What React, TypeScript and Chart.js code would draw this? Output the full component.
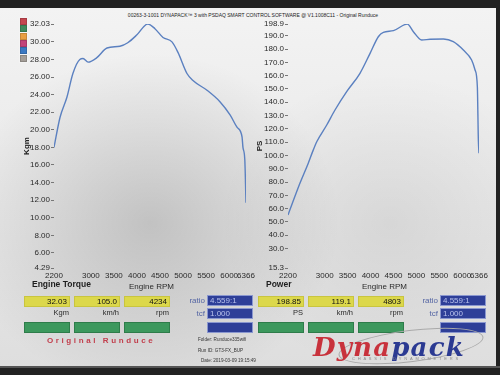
import React, { useEffect, useRef } from "react";
import { Chart, registerables } from "chart.js";

Chart.register(...registerables);
Chart.defaults.font.family = "'Liberation Sans', Arial, sans-serif";

// ---------- data ----------
const rpmTicks = [2200, 3000, 3500, 4000, 4500, 5000, 5500, 6000, 6366];
const torqueTicks = [4.29, 6, 8, 10, 12, 14, 16, 18, 20, 22, 24, 26, 28, 30, 32.03];
const powerTicks = [15.3, 30, 40, 50, 60, 70, 80, 90, 100, 110, 120, 130, 140, 150, 160, 170, 180, 190, 198.9];

const torqueRpm = [2200, 2330, 2480, 2610, 2760, 2830, 2940, 3130, 3350, 3630, 3800, 4000, 4234, 4390, 4565, 4760, 4890, 5085, 5215, 5520, 5800, 6020, 6170, 6280, 6300, 6340, 6366];
const torqueKgm = [18.0, 21.4, 23.7, 26.4, 28.0, 28.1, 27.7, 28.2, 29.3, 29.5, 29.9, 30.8, 32.03, 31.5, 30.5, 30.0, 28.8, 26.4, 25.6, 24.5, 23.2, 21.7, 20.3, 19.2, 18.0, 16.6, 11.7];

const powerRpm = [2200, 2460, 2640, 2750, 2830, 3045, 3225, 3480, 3770, 3990, 4170, 4280, 4500, 4803, 4935, 5115, 5300, 5590, 5805, 6025, 6205, 6280, 6330, 6352, 6366];
const powerPs = [55.2, 79.0, 94.0, 104.0, 110.5, 122.9, 134.2, 148.0, 161.8, 176.8, 189.3, 192.6, 193.9, 198.85, 193.1, 186.9, 187.4, 187.6, 185.6, 179.3, 171.8, 164.3, 151.7, 111.6, 101.6];

const legendColors = ["#c4464f", "#3f8a5c", "#e9a043", "#c2437a", "#3a78c2", "#a39d97"];

const titleText = "00263-3-1001 DYNAPACK\u2122 3 with PSDAQ SMART CONTROL SOFTWARE @ V1.1008C11 - Original Runduce";

const torquePanel = { heading: "Engine Torque", values: ["32.03", "105.0", "4234"], units: ["Kgm", "km/h", "rpm"] };
const powerPanel = { heading: "Power", values: ["198.85", "119.1", "4803"], units: ["PS", "km/h", "rpm"] };
const ratioText = "4.559:1";
const tcfText = "1.000";
const runInfo = ["Folder: Runduce335wifi", "Run ID: GT3-FX_BUP", "Date: 2019-03-09 19:15:49"];

// ---------- chart ----------
type CurveProps = {
  xs: number[];
  ys: number[];
  yTicks: number[];
  decimals: number;
  yTitle: string;
  left: number;
  width: number;
  axisWidth: number;
  padRight: number;
  titlePad: number;
};

const CANVAS_H = 292;
const PLOT_TOP = 24;
const PLOT_BOTTOM = 268;

function Curve(p: CurveProps) {
  const ref = useRef<HTMLCanvasElement>(null);
  useEffect(() => {
    const chart = new Chart(ref.current as HTMLCanvasElement, {
      type: "line",
      data: {
        datasets: [
          {
            data: p.xs.map((x, i) => ({ x, y: p.ys[i] })),
            borderColor: "#5b80c0",
            borderWidth: 1.4,
            pointRadius: 0,
            cubicInterpolationMode: "monotone",
            fill: false,
          },
        ],
      },
      options: {
        responsive: false,
        animation: false,
        layout: { padding: { left: 0, right: p.padRight, top: PLOT_TOP, bottom: 0 } },
        plugins: { legend: { display: false }, tooltip: { enabled: false } },
        scales: {
          x: {
            type: "linear",
            min: rpmTicks[0],
            max: rpmTicks[rpmTicks.length - 1],
            afterBuildTicks: (s: any) => {
              s.ticks = rpmTicks.map((v) => ({ value: v }));
            },
            afterFit: (s: any) => {
              s.height = CANVAS_H - PLOT_BOTTOM;
              s.paddingLeft = 0;
              s.paddingRight = 0;
            },
            ticks: {
              autoSkip: false,
              maxRotation: 0,
              padding: 3,
              color: "#2a2a2a",
              font: { size: 8 },
              callback: (v: any) => String(v),
            },
            grid: { display: false, drawTicks: false },
            border: { display: false },
          },
          y: {
            min: p.yTicks[0],
            max: p.yTicks[p.yTicks.length - 1],
            afterBuildTicks: (s: any) => {
              s.ticks = p.yTicks.map((v) => ({ value: v }));
            },
            afterFit: (s: any) => {
              s.width = p.axisWidth;
              s.paddingTop = 0;
              s.paddingBottom = 0;
            },
            ticks: {
              padding: 1,
              color: "#2a2a2a",
              font: { size: 8 },
              callback: (v: any) => Number(v).toFixed(p.decimals),
            },
            grid: { drawOnChartArea: false, drawTicks: true, tickLength: 3, color: "#777" },
            border: { display: false },
            title: {
              display: true,
              text: p.yTitle,
              color: "#222",
              font: { size: 8, weight: "bold" },
              padding: { top: p.titlePad, bottom: 0 },
            },
          },
        },
      },
    } as any);
    return () => chart.destroy();
  }, []);
  return (
    <canvas
      ref={ref}
      width={p.width}
      height={CANVAS_H}
      style={{ position: "absolute", left: p.left, top: 0, width: p.width, height: CANVAS_H }}
    />
  );
}

// ---------- panel ----------
const abs = (l: number, t: number, w: number, h: number): React.CSSProperties => ({
  position: "absolute",
  left: l,
  top: t,
  width: w,
  height: h,
  boxSizing: "border-box",
});

const yellow: React.CSSProperties = {
  background: "#dcd84b",
  border: "1px solid #c9c53e",
  color: "#111",
  fontSize: 8,
  textAlign: "right",
  paddingRight: 2,
  lineHeight: "9px",
};
const green: React.CSSProperties = { background: "#3c985d", border: "1px solid #2e7c4a" };
const blue: React.CSSProperties = {
  background: "#2e3f98",
  border: "1px solid #8a97cf",
  color: "#b7c1ec",
  fontSize: 8,
  paddingLeft: 2,
  lineHeight: "9px",
};

function Panel(props: {
  x0: number;
  heading: string;
  values: string[];
  units: string[];
  rpmX: number;
  boxX: number[];
  ratioX: number;
  blueX: number;
}) {
  const { heading, values, units, rpmX, boxX, ratioX, blueX } = props;
  return (
    <>
      <div style={{ ...abs(props.x0, 279, 100, 12), fontSize: 8.5, fontWeight: "bold", color: "#1e1e1e" }}>{heading}</div>
      <div style={{ ...abs(rpmX, 282, 80, 12), fontSize: 8, color: "#2a2a2a" }}>Engine RPM</div>
      {values.map((v, i) => (
        <div key={"v" + i} style={{ ...abs(boxX[i], 296, 46, 11), ...yellow }}>{v}</div>
      ))}
      {units.map((u, i) => (
        <div key={"u" + i} style={{ ...abs(boxX[i], 308, 46, 10), fontSize: 7.5, color: "#2a2a2a", textAlign: "right", paddingRight: 1 }}>
          {u}
        </div>
      ))}
      {boxX.map((x, i) => (
        <div key={"g" + i} style={{ ...abs(x, 322, 46, 11), ...green }} />
      ))}
      <div style={{ ...abs(ratioX, 296, 30, 10), fontSize: 8, color: "#5566a4", textAlign: "right" }}>ratio</div>
      <div style={{ ...abs(ratioX, 309, 30, 10), fontSize: 8, color: "#5566a4", textAlign: "right" }}>tcf</div>
      <div style={{ ...abs(blueX, 295, 46, 11), ...blue }}>{ratioText}</div>
      <div style={{ ...abs(blueX, 308, 46, 11), ...blue }}>{tcfText}</div>
      <div style={{ ...abs(blueX, 322, 46, 11), ...blue }} />
    </>
  );
}

export default function App() {
  return (
    <div
      style={{
        position: "absolute",
        left: 0,
        top: 0,
        width: 500,
        height: 375,
        overflow: "hidden",
        background: "#222",
        fontFamily: "'Liberation Sans', Arial, sans-serif",
      }}
    >
      {/* paper */}
      <div
        style={{
          ...abs(0, 8, 496, 360),
          background:
            "radial-gradient(ellipse 190px 170px at 150px 215px, rgba(0,0,0,0.16), rgba(0,0,0,0) 100%)," +
            "radial-gradient(ellipse 170px 150px at 390px 215px, rgba(0,0,0,0.07), rgba(0,0,0,0) 100%)," +
            "linear-gradient(180deg, #f3f3f3 0%, #e8e8e8 55%, #dedede 100%)",
        }}
      />
      {/* bottom edge */}
      <div style={{ ...abs(0, 366, 500, 2), background: "#555" }} />

      {/* title */}
      <div
        style={{
          ...abs(3, 12, 500, 8),
          fontSize: 5,
          lineHeight: "7px",
          color: "#222",
          textAlign: "center",
          whiteSpace: "nowrap",
        }}
      >
        {titleText}
      </div>

      {/* legend swatches */}
      <div style={{ ...abs(19, 17, 9, 46), border: "1px solid #f4f4f4", background: "#f4f4f4" }} />
      {legendColors.map((c, i) => (
        <div key={c} style={{ ...abs(20, 18 + i * 7.3, 7, 7), background: c, border: "0.5px solid rgba(0,0,0,0.15)" }} />
      ))}

      <Curve
        xs={torqueRpm}
        ys={torqueKgm}
        yTicks={torqueTicks}
        decimals={2}
        yTitle="Kgm"
        left={0}
        width={262}
        axisWidth={54}
        padRight={16}
        titlePad={22}
      />
      <Curve
        xs={powerRpm}
        ys={powerPs}
        yTicks={powerTicks}
        decimals={1}
        yTitle="PS"
        left={250}
        width={250}
        axisWidth={38}
        padRight={21}
        titlePad={5}
      />

      <Panel
        x0={32}
        heading={torquePanel.heading}
        values={torquePanel.values}
        units={torquePanel.units}
        rpmX={129}
        boxX={[24, 74, 124]}
        ratioX={175}
        blueX={207}
      />
      <Panel
        x0={266}
        heading={powerPanel.heading}
        values={powerPanel.values}
        units={powerPanel.units}
        rpmX={362}
        boxX={[258, 308, 358]}
        ratioX={408}
        blueX={440}
      />

      {/* Original Runduce */}
      <div
        style={{
          ...abs(47, 336, 120, 10),
          fontSize: 8,
          fontWeight: "bold",
          letterSpacing: 2.6,
          color: "#c2404e",
          whiteSpace: "nowrap",
        }}
      >
        Original Runduce
      </div>

      {/* run info */}
      {runInfo.map((t, i) => (
        <div
          key={t}
          style={{
            ...abs(i === 2 ? 201 : 198, 337 + i * 10.5, 70, 7),
            fontSize: 4.6,
            color: "#333",
            whiteSpace: "nowrap",
          }}
        >
          {t}
        </div>
      ))}

      {/* Dynapack logo */}
      <div
        style={{
          ...abs(338, 330, 146, 32),
          border: "1px solid #a9a9a9",
          borderRadius: "50%",
          transform: "rotate(-7deg)",
        }}
      />
      <div
        style={{
          ...abs(313, 334, 175, 26),
          fontFamily: "'DejaVu Serif', serif",
          fontStyle: "italic",
          fontWeight: "bold",
          fontSize: 26,
          lineHeight: "26px",
          letterSpacing: 1.2,
          whiteSpace: "nowrap",
        }}
      >
        <span style={{ color: "#c8323c" }}>Dyna</span>
        <span style={{ color: "#2b3a92" }}>pack</span>
      </div>
      <div
        style={{
          ...abs(352, 356, 130, 6),
          fontSize: 4,
          letterSpacing: 2.8,
          color: "#8a8a8a",
          whiteSpace: "nowrap",
        }}
      >
        CHASSIS DYNAMOMETERS
      </div>
    </div>
  );
}
